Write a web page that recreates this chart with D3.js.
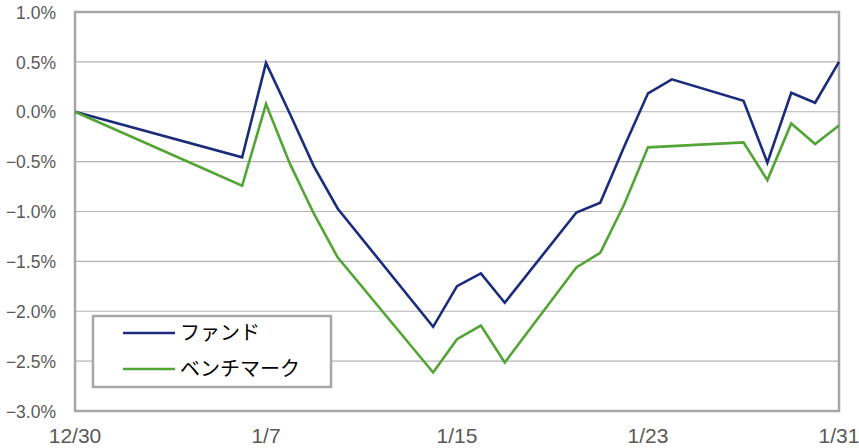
<!DOCTYPE html>
<html>
<head>
<meta charset="utf-8">
<script src="https://cdn.jsdelivr.net/npm/d3@7"></script>
<style>
  body { margin: 0; background: #fff; }
  svg { display: block; }
</style>
</head>
<body>
<script>
// trading days (2024-12-30 .. 2025-01-31)
const dates = ["2024-12-30","2025-01-06","2025-01-07","2025-01-08","2025-01-09","2025-01-10",
  "2025-01-14","2025-01-15","2025-01-16","2025-01-17","2025-01-20","2025-01-21","2025-01-22",
  "2025-01-23","2025-01-24","2025-01-27","2025-01-28","2025-01-29","2025-01-30","2025-01-31"];
const fund = [0, -0.457, 0.49, -0.02, -0.545, -0.97, -2.156, -1.748, -1.62, -1.915,
  -1.01, -0.912, -0.35, 0.185, 0.325, 0.11, -0.51, 0.19, 0.09, 0.50];
const bench = [0, -0.742, 0.077, -0.52, -1.02, -1.46, -2.614, -2.28, -2.143, -2.514,
  -1.56, -1.414, -0.93, -0.357, -0.345, -0.307, -0.685, -0.117, -0.324, -0.137];
const xTicks = ["2024-12-30","2025-01-07","2025-01-15","2025-01-23","2025-01-31"];
const yTicks = [1.0, 0.5, 0.0, -0.5, -1.0, -1.5, -2.0, -2.5, -3.0];
const seriesNames = ["ファンド", "ベンチマーク"];
const colors = ["#1c2c7c", "#52a535"];

const width = 859, height = 448;
const margin = {top: 12, right: 20, bottom: 37, left: 75};
const parse = d3.utcParse("%Y-%m-%d");

const svg = d3.select("body").append("svg")
    .attr("width", width)
    .attr("height", height);

const x = d3.scaleUtc()
    .domain([parse(dates[0]), parse(dates[dates.length - 1])])
    .range([margin.left, width - margin.right]);
const y = d3.scaleLinear()
    .domain([-3, 1])
    .range([height - margin.bottom, margin.top]);

// gridlines
svg.append("g")
  .selectAll("line")
  .data(yTicks)
  .join("line")
    .attr("x1", margin.left).attr("x2", width - margin.right)
    .attr("y1", d => y(d)).attr("y2", d => y(d))
    .attr("stroke", "#b3b3b3")
    .attr("stroke-width", 1.2);

// plot frame
svg.append("rect")
    .attr("x", margin.left).attr("y", margin.top)
    .attr("width", width - margin.right - margin.left)
    .attr("height", height - margin.bottom - margin.top)
    .attr("fill", "none")
    .attr("stroke", "#a6a6a6")
    .attr("stroke-width", 2.5);

const fmt = d3.format(".1f");
svg.append("g")
    .attr("font-family", "'Liberation Sans', Arial, sans-serif")
    .attr("font-size", 17.5)
    .attr("fill", "#595959")
    .attr("text-anchor", "end")
  .selectAll("text")
  .data(yTicks)
  .join("text")
    .attr("x", 56)
    .attr("y", d => y(d))
    .attr("dy", "0.38em")
    .text(d => (d < 0 ? "\u2212" + fmt(-d) : fmt(d)) + "%");

const fmtX = d => (d.getUTCMonth() + 1) + "/" + d.getUTCDate();
svg.append("g")
    .attr("font-family", "'Liberation Sans', Arial, sans-serif")
    .attr("font-size", 21)
    .attr("fill", "#595959")
    .attr("text-anchor", "middle")
  .selectAll("text")
  .data(xTicks.map(parse))
  .join("text")
    .attr("x", d => x(d))
    .attr("y", 443)
    .text(fmtX);

const line = d3.line()
    .x((d, i) => x(parse(dates[i])))
    .y(d => y(d));

[fund, bench].forEach((s, i) => {
  svg.append("path")
      .datum(s)
      .attr("fill", "none")
      .attr("stroke", colors[i])
      .attr("stroke-width", 2.6)
      .attr("stroke-linejoin", "miter")
      .attr("d", line);
});

// legend
const lg = svg.append("g");
lg.append("rect")
    .attr("x", 93).attr("y", 316)
    .attr("width", 238).attr("height", 71)
    .attr("fill", "#fff")
    .attr("stroke", "#a6a6a6")
    .attr("stroke-width", 2.5);
seriesNames.forEach((name, i) => {
  const ly = 333 + i * 36;
  lg.append("line")
      .attr("x1", 123).attr("x2", 175)
      .attr("y1", ly).attr("y2", ly)
      .attr("stroke", colors[i])
      .attr("stroke-width", 2.6);
  lg.append("text")
      .attr("x", 180).attr("y", ly)
      .attr("dy", "0.36em")
      .attr("font-family", "'Noto Sans CJK JP', sans-serif")
      .attr("font-size", 20)
      .attr("fill", "#000")
      .text(name);
});
</script>
</body>
</html>
